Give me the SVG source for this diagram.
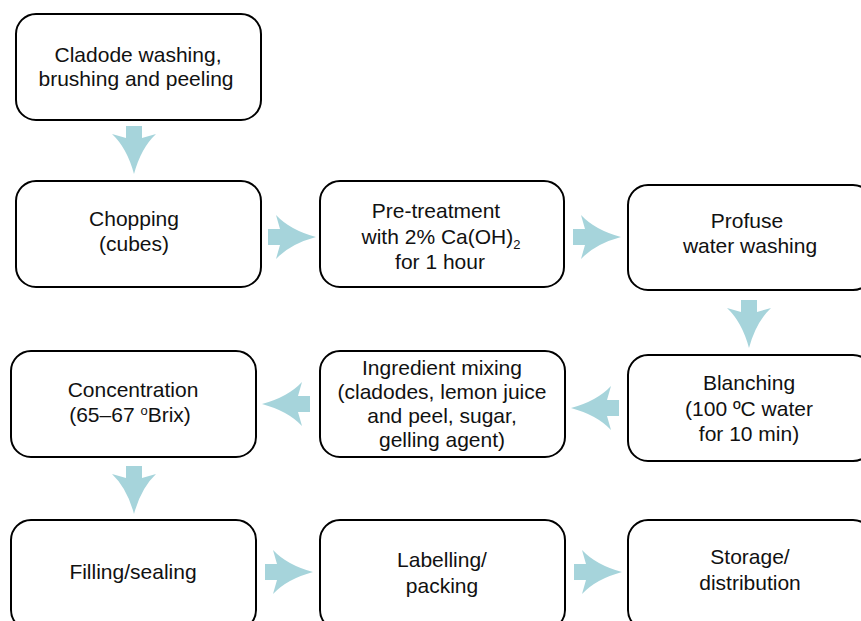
<svg xmlns="http://www.w3.org/2000/svg" width="861" height="621" viewBox="0 0 861 621">
<style>
.box{fill:#fff;stroke:#000;stroke-width:2}
.t{font-family:"Liberation Sans",Arial,sans-serif;font-size:21px;fill:#111;text-anchor:middle}
.arr{fill:#a6d4db}
</style>
<defs>
<path id="ar" d="M0,-8 L12,-8 L8,-22 Q22,-7 48,0 Q22,7 8,22 L12,8 L0,8 Z"/>
</defs>
<rect width="861" height="621" fill="#fff"/>
<g id="connectors">
<use href="#ar" class="arr" transform="translate(134,126) rotate(90)"/>
<use href="#ar" class="arr" transform="translate(268,237)"/>
<use href="#ar" class="arr" transform="translate(573,237)"/>
<use href="#ar" class="arr" transform="translate(749,300) rotate(90)"/>
<use href="#ar" class="arr" transform="translate(619,408) rotate(180)"/>
<use href="#ar" class="arr" transform="translate(310,404) rotate(180)"/>
<use href="#ar" class="arr" transform="translate(134,466) rotate(90)"/>
<use href="#ar" class="arr" transform="translate(265,572)"/>
<use href="#ar" class="arr" transform="translate(574,572)"/>
</g>
<g id="n1"><rect class="box" x="16" y="14" width="245" height="106" rx="20"/>
<text class="t" y="62"><tspan x="138">Cladode washing,</tspan><tspan x="136" y="86">brushing and peeling</tspan></text></g>
<g id="n2"><rect class="box" x="16" y="181" width="245" height="106" rx="20"/>
<text class="t" y="226"><tspan x="134">Chopping</tspan><tspan x="134" y="251">(cubes)</tspan></text></g>
<g id="n3"><rect class="box" x="320" y="181" width="244" height="106" rx="20"/>
<text class="t" y="218"><tspan x="436">Pre-treatment</tspan><tspan x="441" y="244">with 2% Ca(OH)</tspan><tspan font-size="13" dy="5">2</tspan><tspan x="440" y="269">for 1 hour</tspan></text></g>
<g id="n4"><rect class="box" x="628" y="185" width="245" height="105" rx="20"/>
<text class="t" y="228"><tspan x="747">Profuse</tspan><tspan x="750" y="253">water washing</tspan></text></g>
<g id="n5"><rect class="box" x="628" y="355" width="245" height="106" rx="20"/>
<text class="t" y="390"><tspan x="749">Blanching</tspan><tspan x="749" y="416">(100 ºC water</tspan><tspan x="749" y="441">for 10 min)</tspan></text></g>
<g id="n6"><rect class="box" x="320" y="351" width="245" height="106" rx="20"/>
<text class="t" y="375"><tspan x="442">Ingredient mixing</tspan><tspan x="442" y="399">(cladodes, lemon juice</tspan><tspan x="442" y="423">and peel, sugar,</tspan><tspan x="442" y="447">gelling agent)</tspan></text></g>
<g id="n7"><rect class="box" x="11" y="351" width="245" height="106" rx="20"/>
<text class="t" y="397"><tspan x="133">Concentration</tspan><tspan x="130" y="422">(65–67 <tspan font-size="13" dy="-7">o</tspan><tspan dy="7">Brix)</tspan></tspan></text></g>
<g id="n8"><rect class="box" x="11" y="520" width="245" height="110" rx="20"/>
<text class="t" x="133" y="579">Filling/sealing</text></g>
<g id="n9"><rect class="box" x="320" y="520" width="245" height="110" rx="20"/>
<text class="t" y="567"><tspan x="442">Labelling/</tspan><tspan x="442" y="593">packing</tspan></text></g>
<g id="n10"><rect class="box" x="628" y="520" width="245" height="110" rx="20"/>
<text class="t" y="564"><tspan x="750">Storage/</tspan><tspan x="750" y="590">distribution</tspan></text></g>
</svg>
